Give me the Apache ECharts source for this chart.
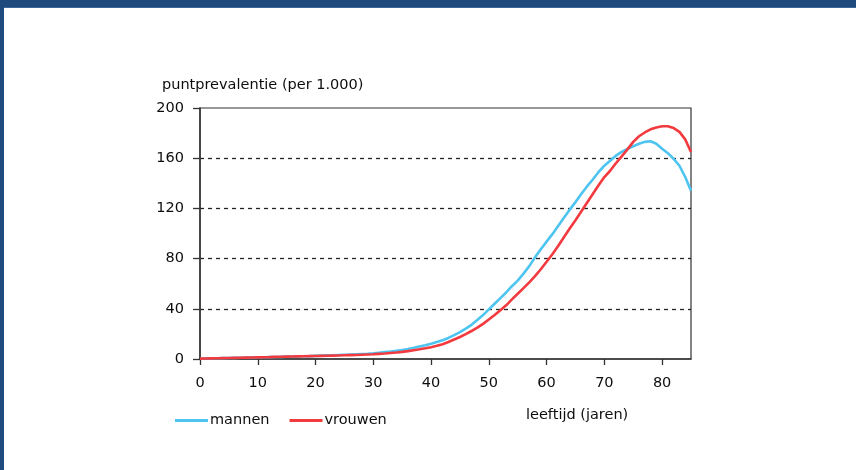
<!DOCTYPE html>
<html>
<head>
<meta charset="utf-8">
<script src="https://cdn.jsdelivr.net/npm/echarts@6/dist/echarts.min.js"></script>
<style>
html,body{margin:0;padding:0;background:#fff;}
#chart{width:856px;height:470px;}
</style>
</head>
<body>
<div id="chart"></div>
<script>
var ages = [0,1,2,3,4,5,6,7,8,9,10,11,12,13,14,15,16,17,18,19,20,21,22,23,24,25,26,27,28,29,30,31,32,33,34,35,36,37,38,39,40,41,42,43,44,45,46,47,48,49,50,51,52,53,54,55,56,57,58,59,60,61,62,63,64,65,66,67,68,69,70,71,72,73,74,75,76,77,78,79,80,81,82,83,84,85];
var mannen = [0.3,0.4,0.5,0.6,0.7,0.8,0.9,1.0,1.1,1.2,1.3,1.4,1.5,1.6,1.7,1.9,2.0,2.1,2.2,2.3,2.5,2.7,2.9,3.0,3.2,3.4,3.6,3.8,4.0,4.2,4.5,5,5.5,6,6.6,7.2,8,8.9,10,11,12.2,13.5,15,16.8,19,21.5,24.2,27.2,31,35,39.5,44,48.5,53,58,62.5,68,74,81,87.5,93.5,99.5,106,112.5,119,125,131.5,137.5,143,149,154,158,162,165,167.5,169.5,171.5,173,173.5,171.5,167.5,164,159.5,154,145,134];
var vrouwen = [0.3,0.4,0.5,0.6,0.7,0.8,0.9,1.0,1.1,1.2,1.3,1.4,1.5,1.7,1.8,1.9,2.0,2.1,2.2,2.3,2.4,2.5,2.6,2.7,2.8,3.0,3.1,3.2,3.4,3.6,3.8,4.1,4.4,4.8,5.2,5.7,6.3,7,7.7,8.5,9.4,10.5,11.8,13.5,15.5,17.5,19.8,22.3,25,28,31.5,35,38.8,42.8,47.5,52,56.5,61,66,71.5,77.5,83.5,90,97,104,110.5,117.5,124.5,131.5,138.5,145,150,156,161.5,167,173,177.5,180.5,183,184.5,185.5,185.5,184,181,175,165];
var xTicks = [0,10,20,30,40,50,60,70,80];
var yTicks = [0,40,80,120,160,200];
var seriesNames = ['mannen','vrouwen'];
var yTitle = 'puntprevalentie (per 1.000)';
var xTitle = 'leeftijd (jaren)';

function pairs(xs, ys){ return xs.map(function(x,i){ return [x, ys[i]]; }); }

var FONT = 'DejaVu Sans';
var TXT = '#0d0d0d';
var chart = echarts.init(document.getElementById('chart'), null, {renderer:'canvas'});
chart.setOption({
  animation:false,
  backgroundColor:'#ffffff',
  textStyle:{fontFamily:FONT},
  title:[
    {text:yTitle, left:157, top:73, textStyle:{fontFamily:FONT, fontSize:14.5, fontWeight:'normal', color:TXT}},
    {text:xTitle, left:521, top:403, textStyle:{fontFamily:FONT, fontSize:14.5, fontWeight:'normal', color:TXT}}
  ],
  legend:{
    left:170, top:408, icon:'rect', itemWidth:33, itemHeight:3, itemGap:20,
    textStyle:{fontFamily:FONT, fontSize:14.5, color:TXT, padding:[0,0,0,-3]},
    data:seriesNames
  },
  grid:{left:200, top:108, width:491, height:251, show:true, borderColor:'#333', borderWidth:1.2, containLabel:false},
  xAxis:{
    type:'value', min:0, max:85, interval:10,
    axisLine:{show:true, lineStyle:{color:'#333', width:1.5}},
    axisTick:{show:true, length:6, inside:false, customValues:xTicks, lineStyle:{color:'#333', width:1.3}},
    axisLabel:{fontFamily:FONT, fontSize:14.5, color:TXT, margin:17, customValues:xTicks},
    splitLine:{show:false}
  },
  yAxis:{
    type:'value', min:0, max:200, interval:40,
    axisLine:{show:true, lineStyle:{color:'#333', width:1.5}},
    axisTick:{show:true, length:7, inside:false, lineStyle:{color:'#333', width:1.3}},
    axisLabel:{fontFamily:FONT, fontSize:14.5, color:TXT, margin:16, customValues:yTicks},
    splitLine:{show:true, showMinLine:false, showMaxLine:false, lineStyle:{color:'#222', width:1.3, type:[4,4]}}
  },
  graphic:[
    {type:'rect', shape:{x:0,y:0,width:856,height:8}, style:{fill:'#1f4a7e'}, z:100},
    {type:'rect', shape:{x:0,y:0,width:4,height:470}, style:{fill:'#1f4a7e'}, z:100},
    {type:'rect', shape:{x:4,y:7,width:852,height:1}, style:{fill:'#3c679a'}, z:101}
  ],
  series:[
    {name:seriesNames[0], type:'line', data:pairs(ages, mannen), showSymbol:false, symbol:'none', smooth:false,
     lineStyle:{color:'#4ec4f0', width:2.6}, itemStyle:{color:'#4ec4f0'}, z:3},
    {name:seriesNames[1], type:'line', data:pairs(ages, vrouwen), showSymbol:false, symbol:'none', smooth:false,
     lineStyle:{color:'#f23a3f', width:2.6}, itemStyle:{color:'#f23a3f'}, z:4}
  ]
});
</script>
</body>
</html>
